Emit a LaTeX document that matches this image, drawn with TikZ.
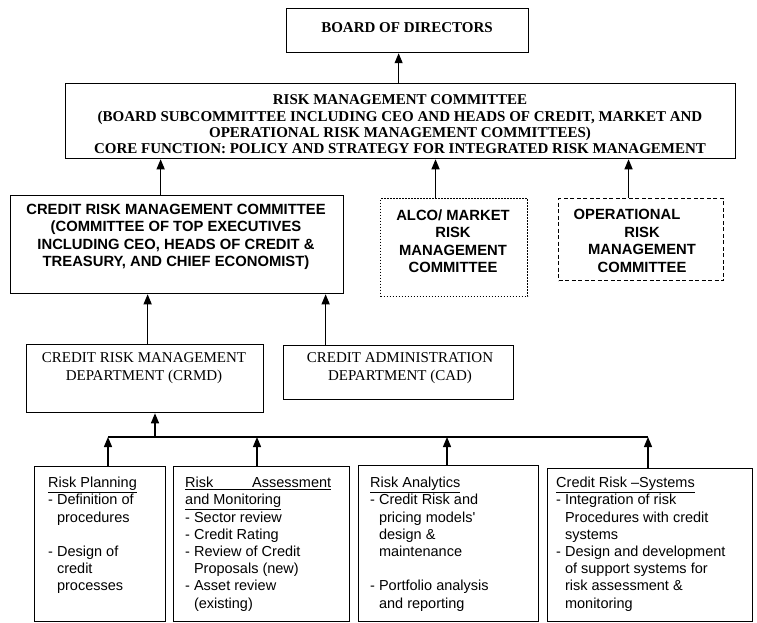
\documentclass[tikz,border=0pt]{standalone}
\usepackage{fontspec}
\setmainfont{Liberation Serif}
\setsansfont{Liberation Sans}
\usetikzlibrary{arrows.meta}
\newcommand\dsh{\hphantom{-}\ }
\begin{document}
\begin{tikzpicture}[x=1pt,y=-1pt,
  box/.style={draw, line width=1.25pt, inner sep=0pt, anchor=north west},
  dotbox/.style={box, line width=1.1pt, dash pattern=on 1.6pt off 1.4pt},
  dashbox/.style={box, line width=1.1pt, dash pattern=on 4pt off 2.5pt},
  arr/.style={line width=1.25pt, -{Triangle[length=10pt,width=8pt]}},
  link/.style={line width=1.25pt},
  topf/.style={font=\bfseries\fontsize{15}{16.4}\selectfont, align=center, inner sep=0pt},
  sansb/.style={font=\sffamily\bfseries\fontsize{14.8}{17.5}\selectfont, align=center, inner sep=0pt},
  dept/.style={font=\fontsize{15}{18}\selectfont, align=center, inner sep=0pt},
  sub/.style={font=\sffamily\fontsize{14.5}{17.2}\selectfont, align=left, inner sep=0pt, anchor=north west},
]
\fill[white] (0,0) rectangle (757,623);
\useasboundingbox (0,0) rectangle (757,623);

% top level
\node[box, minimum width=242pt, minimum height=44pt] (board) at (286,8) {};
\node[topf] (boardT) at (407,28) {BOARD OF DIRECTORS};

\node[box, minimum width=670pt, minimum height=75pt] (rmc) at (65,83) {};
\node[topf] (rmcT) at (400,124.5) {RISK MANAGEMENT COMMITTEE\\
(BOARD SUBCOMMITTEE INCLUDING CEO AND HEADS OF CREDIT, MARKET AND\\
OPERATIONAL RISK MANAGEMENT COMMITTEES)\\
CORE FUNCTION: POLICY AND STRATEGY FOR INTEGRATED RISK MANAGEMENT};

% committees
\node[box, minimum width=333pt, minimum height=98pt] (crmc) at (10,195) {};
\node[sansb] (crmcT) at (176,237) {CREDIT RISK MANAGEMENT COMMITTEE\\
(COMMITTEE OF TOP EXECUTIVES\\
INCLUDING CEO, HEADS OF CREDIT \&\\
TREASURY, AND CHIEF ECONOMIST)};

\node[dotbox, minimum width=147pt, minimum height=98pt] (alco) at (380,198) {};
\node[sansb] (alcoT) at (453,241) {ALCO/ MARKET\\ RISK\\ MANAGEMENT\\ COMMITTEE};

\node[dashbox, minimum width=165pt, minimum height=82pt] (oper) at (558,198) {};
\node[sansb] (operT) at (642,241) {OPERATIONAL\hspace*{30pt}\\ RISK\\ MANAGEMENT\\ COMMITTEE};

% departments
\node[box, minimum width=237pt, minimum height=68pt] (crmd) at (26,344) {};
\node[dept] (crmdT) at (144,368) {CREDIT RISK MANAGEMENT\\ DEPARTMENT (CRMD)};

\node[box, minimum width=230pt, minimum height=54pt] (cad) at (283,345) {};
\node[dept] (cadT) at (400,368) {CREDIT ADMINISTRATION\\ DEPARTMENT (CAD)};

% sub units
\node[box, minimum width=131pt, minimum height=155pt] (plan) at (34,466) {};
\node[sub] (planT) at (48,477) {\underline{Risk Planning}\\
- Definition of\\
\dsh procedures\\
~\\
- Design of\\
\dsh credit\\
\dsh processes};

\node[box, minimum width=176pt, minimum height=155pt] (assess) at (173,466) {};
\node[sub] (assessT) at (185,477) {\underline{\makebox[146pt][s]{Risk Assessment}}\\
\underline{and Monitoring}\\
- Sector review\\
- Credit Rating\\
- Review of Credit\\
\dsh Proposals (new)\\
- Asset review\\
\dsh (existing)};

\node[box, minimum width=180pt, minimum height=156pt] (anal) at (358,465) {};
\node[sub] (analT) at (370,477) {\underline{Risk Analytics}\\
- Credit Risk and\\
\dsh pricing models\textquotesingle\\
\dsh design \&\\
\dsh maintenance\\
~\\
- Portfolio analysis\\
\dsh and reporting};

\node[box, minimum width=205pt, minimum height=153pt] (sys) at (547,468) {};
\node[sub] (sysT) at (556,477) {\underline{Credit Risk –Systems}\\
- Integration of risk\\
\dsh Procedures with credit\\
\dsh systems\\
- Design and development\\
\dsh of support systems for\\
\dsh risk assessment \&\\
\dsh monitoring};

% connectors
\draw[arr] ([xshift=-2pt]rmc.north) -- ([xshift=-2pt]rmc.north |- board.south);
\draw[arr] ([xshift=-16.5pt]crmc.north) -- ([xshift=-16.5pt]crmc.north |- rmc.south);
\draw[arr] ([xshift=-18.5pt]alco.north) -- ([xshift=-18.5pt]alco.north |- rmc.south);
\draw[arr] ([xshift=-12.5pt]oper.north) -- ([xshift=-12.5pt]oper.north |- rmc.south);
\draw[arr] ([xshift=2.5pt]crmd.north) -- ([xshift=2.5pt]crmd.north |- crmc.south);
\draw[arr] ([xshift=-73pt]cad.north) -- ([xshift=-73pt]cad.north |- crmc.south);

\coordinate (bus1) at (108,437);
\coordinate (busc) at (155,437);
\coordinate (bus2) at (257,437);
\coordinate (bus3) at (447,437);
\coordinate (bus4) at (648,437);
\draw[link] (bus1) -- (bus4);
\draw[arr] (busc) -- (busc |- crmd.south);
\draw[arr] (plan.north -| bus1) -- (bus1);
\draw[arr] (assess.north -| bus2) -- (bus2);
\draw[arr] (anal.north -| bus3) -- (bus3);
\draw[arr] (sys.north -| bus4) -- (bus4);
\end{tikzpicture}
\end{document}
